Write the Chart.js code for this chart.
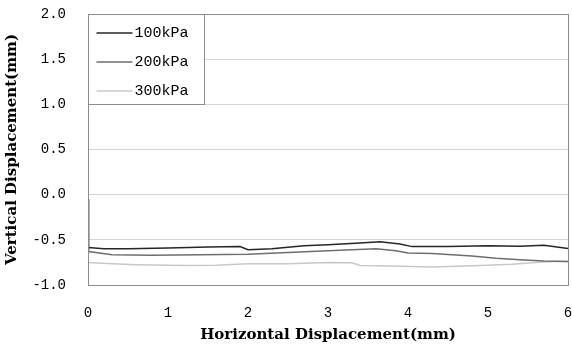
<!DOCTYPE html>
<html>
<head>
<meta charset="utf-8">
<script src="https://cdn.jsdelivr.net/npm/chart.js@4"></script>
<style>
  html, body { margin: 0; padding: 0; background: #fff; }
  #wrap { width: 572px; height: 351px; }
</style>
</head>
<body>
<div id="wrap"><canvas id="myChart" width="572" height="351"></canvas></div>
<script>
// series labels
const seriesNames = ['100kPa', '200kPa', '300kPa'];
const seriesColors = ['#262626', '#6e6e6e', '#c8c8c8'];

// 100kPa
const x100 = [0, 0.2, 0.5, 1.0, 1.5, 1.9, 2.0, 2.3, 2.7, 3.0, 3.4, 3.65, 3.9, 4.05, 4.5, 5.0, 5.4, 5.7, 6.0];
const y100 = [-0.585, -0.6, -0.6, -0.59, -0.58, -0.575, -0.61, -0.6, -0.565, -0.555, -0.535, -0.52, -0.545, -0.575, -0.575, -0.565, -0.57, -0.56, -0.595];

// 200kPa
const x200 = [0, 0.01, 0.3, 0.8, 1.4, 2.0, 2.5, 3.0, 3.6, 3.85, 4.0, 4.3, 4.8, 5.1, 5.4, 5.7, 6.0];
const y200 = [-0.05, -0.63, -0.665, -0.67, -0.665, -0.66, -0.64, -0.62, -0.6, -0.62, -0.645, -0.65, -0.68, -0.705, -0.72, -0.735, -0.74];

// 300kPa
const x300 = [0, 0.3, 0.6, 1.2, 1.6, 2.0, 2.5, 3.0, 3.3, 3.4, 3.8, 4.3, 4.9, 5.3, 5.6, 5.8, 6.0];
const y300 = [-0.75, -0.765, -0.775, -0.785, -0.78, -0.765, -0.765, -0.75, -0.755, -0.785, -0.79, -0.8, -0.785, -0.77, -0.75, -0.74, -0.74];

const xTitle = 'Horizontal Displacement(mm)';
const yTitle = 'Vertical Displacement(mm)';

function toPoints(xs, ys) {
    return xs.map((x, i) => ({ x: x, y: ys[i] }));
}

// рамка вокруг области графика
const framePlugin = {
    id: 'frame',
    afterDatasetsDraw(chart) {
        const a = chart.chartArea;
        const ctx = chart.ctx;
        ctx.save();
        ctx.strokeStyle = '#8c8c8c';
        ctx.lineWidth = 1;
        ctx.strokeRect(Math.round(a.left) + 0.5, Math.round(a.top) + 0.5, Math.round(a.right - a.left), Math.round(a.bottom - a.top));
        ctx.restore();
    }
};

// легенда внутри области графика, слева сверху
const boxLegend = {
    id: 'boxLegend',
    afterDraw(chart) {
        const a = chart.chartArea;
        const ctx = chart.ctx;
        const left = Math.round(a.left) + 0.5;
        const top = Math.round(a.top) + 0.5;
        ctx.save();
        ctx.fillStyle = '#fff';
        ctx.fillRect(left, top, 116, 90);
        ctx.strokeStyle = '#8c8c8c';
        ctx.lineWidth = 1;
        ctx.strokeRect(left, top, 116, 90);
        ctx.font = '15px "Liberation Mono"';
        ctx.textBaseline = 'middle';
        chart.data.datasets.forEach((ds, i) => {
            const y = Math.round(a.top) + 19 + i * 29;
            ctx.strokeStyle = ds.borderColor;
            ctx.lineWidth = 1.5;
            ctx.beginPath();
            ctx.moveTo(left + 8, y);
            ctx.lineTo(left + 44, y);
            ctx.stroke();
            ctx.fillStyle = '#000';
            ctx.fillText(ds.label, left + 46, y);
        });
        ctx.restore();
    }
};

const ctx = document.getElementById('myChart').getContext('2d');

const myChart = new Chart(ctx, {
    type: 'scatter',
    data: {
        datasets: [
            { label: seriesNames[0], data: toPoints(x100, y100) },
            { label: seriesNames[1], data: toPoints(x200, y200) },
            { label: seriesNames[2], data: toPoints(x300, y300) }
        ].map((ds, i) => Object.assign(ds, {
            showLine: true,
            borderColor: seriesColors[i],
            backgroundColor: seriesColors[i],
            borderWidth: 1.5,
            pointRadius: 0,
            tension: 0
        }))
    },
    options: {
        responsive: false,
        animation: false,
        layout: { padding: { top: 14, right: 4, left: 0, bottom: 0 } },
        plugins: {
            legend: { display: false },
            tooltip: { enabled: false }
        },
        scales: {
            x: {
                type: 'linear',
                min: 0,
                max: 6,
                ticks: {
                    stepSize: 1,
                    color: '#000',
                    padding: 20,
                    font: { family: 'Liberation Mono', size: 14 },
                    maxRotation: 0
                },
                grid: { display: false, drawTicks: false },
                border: { display: false },
                title: {
                    display: true,
                    text: xTitle,
                    color: '#000',
                    padding: { top: 4, bottom: 7 },
                    font: { family: 'DejaVu Serif', size: 15, weight: 'bold' }
                },
                afterFit(scale) {
                    scale.height = 66;
                    scale.paddingLeft = 0;
                    scale.paddingRight = 0;
                }
            },
            y: {
                min: -1,
                max: 2,
                ticks: {
                    stepSize: 0.5,
                    color: '#000',
                    padding: 22,
                    font: { family: 'Liberation Mono', size: 14 },
                    callback: v => v.toFixed(1)
                },
                grid: { color: '#d4d4d4', drawTicks: false },
                border: { display: false },
                title: {
                    display: true,
                    text: yTitle,
                    color: '#000',
                    padding: { top: 3, bottom: 6 },
                    font: { family: 'DejaVu Serif', size: 15, weight: 'bold' }
                },
                afterFit(scale) {
                    scale.width = 88;
                    scale.paddingTop = 0;
                    scale.paddingBottom = 0;
                }
            }
        }
    },
    plugins: [framePlugin, boxLegend]
});
</script>
</body>
</html>
